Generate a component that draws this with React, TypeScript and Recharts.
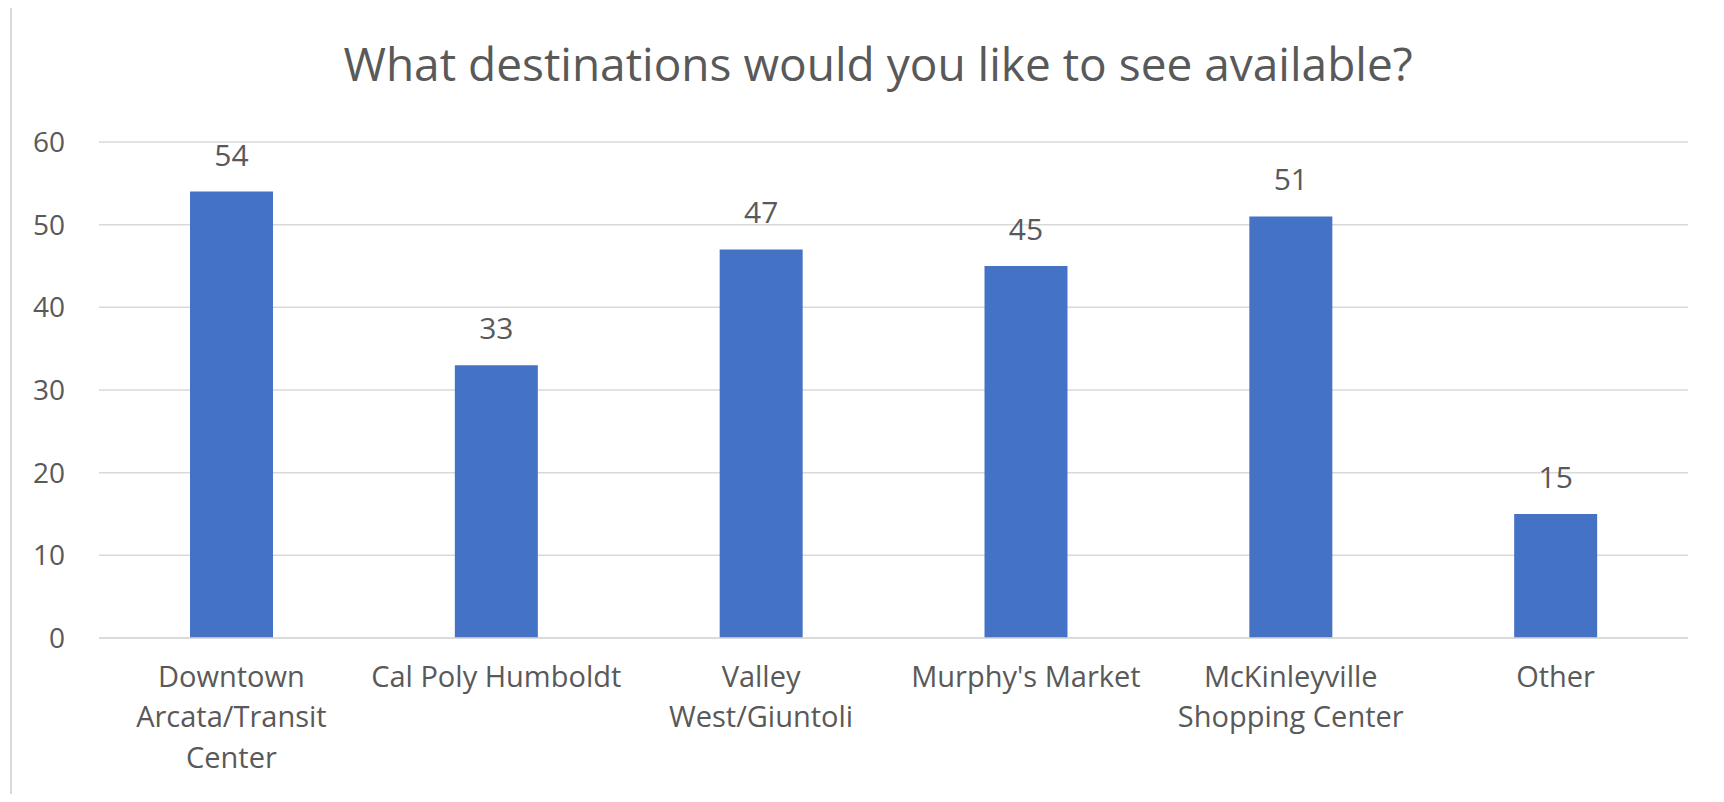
import React from "react";
import { BarChart, Bar, XAxis, YAxis, CartesianGrid, LabelList } from "recharts";

const categories = [
  "Downtown Arcata/Transit Center",
  "Cal Poly Humboldt",
  "Valley West/Giuntoli",
  "Murphy's Market",
  "McKinleyville Shopping Center",
  "Other",
];

// how Excel wrapped each category label
const tickLines = [
  ["Downtown", "Arcata/Transit", "Center"],
  ["Cal Poly Humboldt"],
  ["Valley", "West/Giuntoli"],
  ["Murphy's Market"],
  ["McKinleyville", "Shopping Center"],
  ["Other"],
];

const responses = [54, 33, 47, 45, 51, 15];
const yTicks = [0, 10, 20, 30, 40, 50, 60];

const title = "What destinations would you like to see available?";

const data = categories.map((name, i) => ({ name, value: responses[i] }));

const FONT = "'Open Sans', 'Noto Sans', sans-serif";
const textColor = "#595959";
const barColor = "#4472c4";
const gridColor = "#d9d9d9";

function CategoryTick(props: any) {
  const { x, y, payload } = props;
  const idx = categories.indexOf(payload.value);
  const lines = idx >= 0 ? tickLines[idx] : [payload.value];
  return (
    <text x={x} y={y} textAnchor="middle" fill={textColor} fontSize={29} fontFamily={FONT}>
      {lines.map((line, i) => (
        <tspan key={i} x={x} dy={i === 0 ? "0.71em" : 40.5}>
          {line}
        </tspan>
      ))}
    </text>
  );
}

export default function App() {
  return (
    <div style={{ position: "relative", width: 1724, height: 802, margin: -8, background: "#fff", overflow: "hidden" }}>
      <div
        style={{
          position: "absolute",
          left: 10,
          top: 5,
          right: -10,
          bottom: -10,
          borderLeft: `2px solid ${gridColor}`,
          borderTop: `2px solid ${gridColor}`,
        }}
      />
      <svg style={{ position: "absolute", left: 0, top: 0 }} width={1724} height={110}>
        <text x={878} y={81} textAnchor="middle" fill={textColor} fontSize={46} fontFamily={FONT}>
          {title}
        </text>
      </svg>
      <div style={{ position: "absolute", left: 0, top: 0 }}>
        <BarChart
          width={1724}
          height={802}
          data={data}
          margin={{ top: 142, right: 36, left: 39, bottom: 34 }}
        >
          <CartesianGrid vertical={false} stroke={gridColor} strokeWidth={1.5} />
          <XAxis
            dataKey="name"
            interval={0}
            axisLine={{ stroke: gridColor, strokeWidth: 1.5 }}
            tickLine={false}
            tickSize={0}
            tickMargin={28}
            height={130}
            tick={<CategoryTick />}
          />
          <YAxis
            domain={[0, 60]}
            ticks={yTicks}
            interval={0}
            axisLine={false}
            tickLine={false}
            tickSize={0}
            tickMargin={34}
            width={60}
            tick={{ fill: textColor, fontSize: 28, fontFamily: FONT }}
          />
          <Bar dataKey="value" fill={barColor} barSize={83} isAnimationActive={false}>
            <LabelList
              dataKey="value"
              position="top"
              offset={26}
              fill={textColor}
              fontSize={30}
              fontFamily={FONT}
            />
          </Bar>
        </BarChart>
      </div>
    </div>
  );
}
